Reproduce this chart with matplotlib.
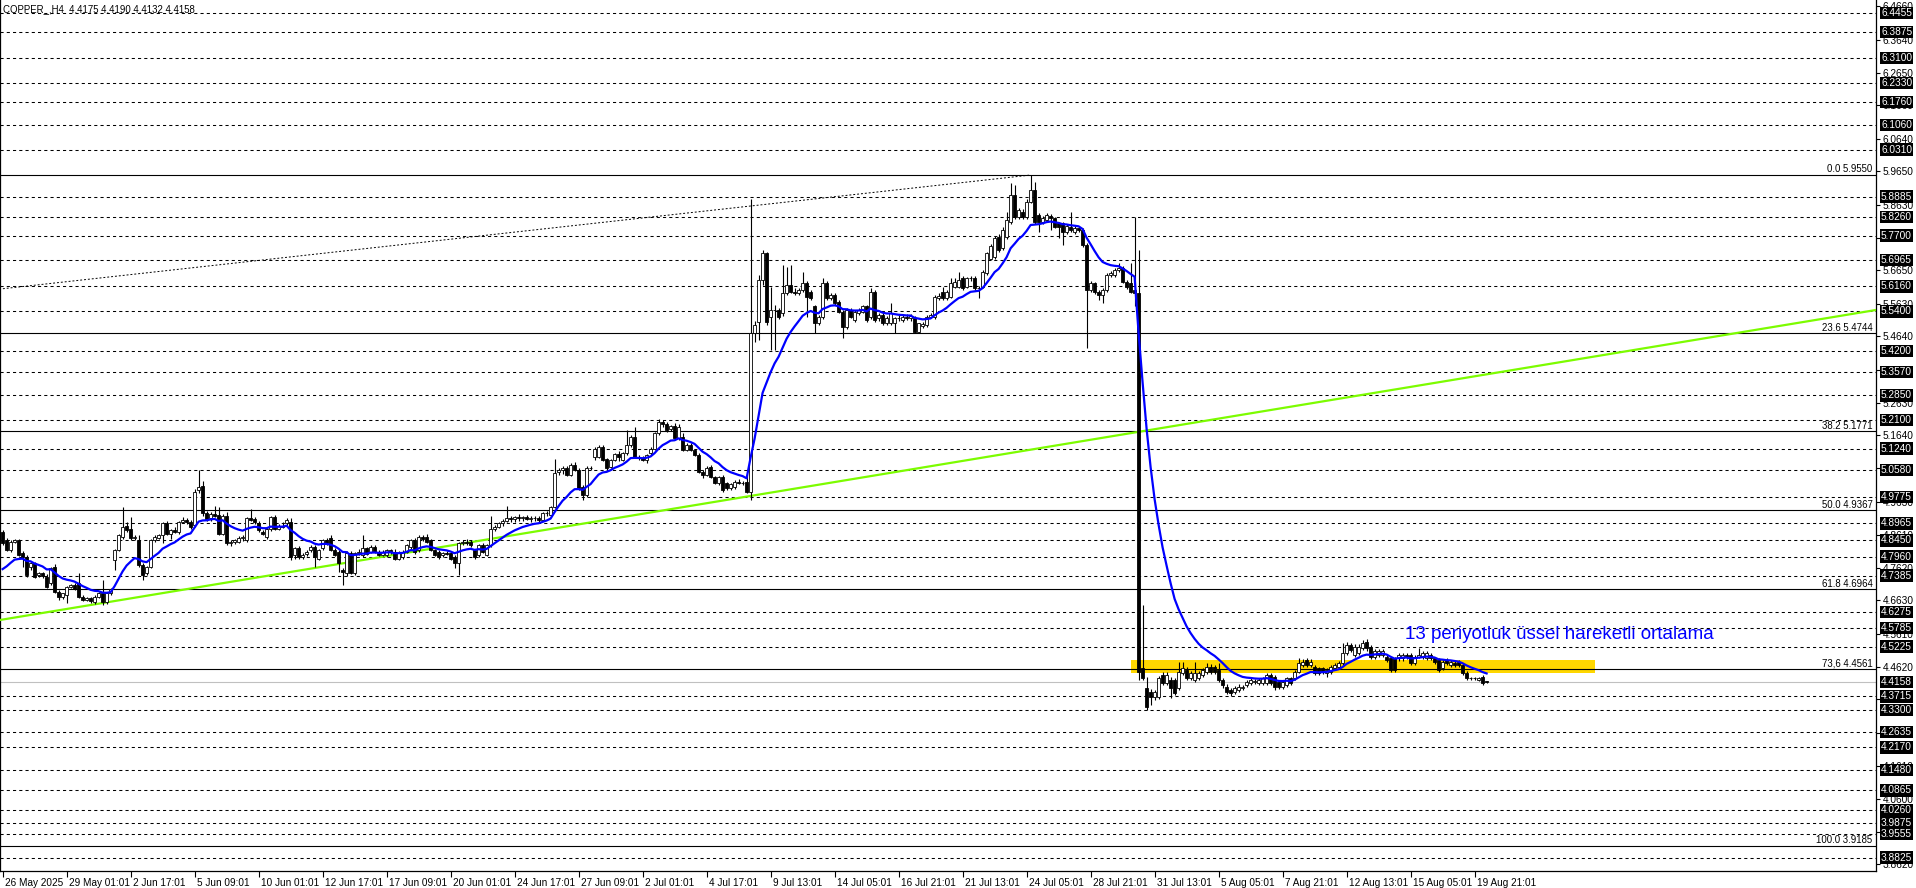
import numpy as np
import pandas as pd
import matplotlib
matplotlib.use("Agg")
import matplotlib.pyplot as plt
import matplotlib.transforms as mtransforms

plt.rcParams['font.family'] = ['Liberation Sans', 'DejaVu Sans']

# ---- candle data (COPPER_, H4), one value per bar ----
o = [4.871, 4.846, 4.816, 4.841, 4.845, 4.808, 4.796, 4.765, 4.775, 4.740,
     4.745, 4.735, 4.715, 4.765, 4.689, 4.674, 4.679, 4.704, 4.709, 4.715,
     4.674, 4.664, 4.669, 4.659, 4.674, 4.684, 4.659, 4.684, 4.785, 4.816,
     4.856, 4.889, 4.881, 4.851, 4.846, 4.770, 4.745, 4.765, 4.846, 4.851,
     4.861, 4.897, 4.866, 4.876, 4.871, 4.902, 4.907, 4.902, 4.892, 4.998,
     5.010, 4.927, 4.912, 4.925, 4.922, 4.866, 4.920, 4.836, 4.840, 4.841,
     4.851, 4.846, 4.912, 4.910, 4.899, 4.871, 4.856, 4.881, 4.917, 4.881,
     4.890, 4.897, 4.902, 4.801, 4.821, 4.796, 4.804, 4.816, 4.826, 4.790,
     4.821, 4.846, 4.851, 4.816, 4.811, 4.755, 4.745, 4.806, 4.745, 4.806,
     4.801, 4.821, 4.811, 4.826, 4.811, 4.801, 4.801, 4.816, 4.811, 4.790,
     4.796, 4.811, 4.826, 4.846, 4.816, 4.856, 4.856, 4.846, 4.816, 4.811,
     4.801, 4.806, 4.806, 4.796, 4.775, 4.836, 4.841, 4.841, 4.816, 4.801,
     4.831, 4.801, 4.831, 4.881, 4.887, 4.897, 4.905, 4.912, 4.910, 4.915,
     4.912, 4.916, 4.910, 4.914, 4.912, 4.907, 4.927, 4.922, 4.947, 5.054,
     5.059, 5.064, 5.044, 5.074, 5.059, 5.008, 4.983, 5.064, 5.099, 5.099,
     5.129, 5.091, 5.069, 5.089, 5.107, 5.089, 5.109, 5.135, 5.160, 5.099,
     5.094, 5.089, 5.109, 5.124, 5.170, 5.205, 5.198, 5.182, 5.192, 5.155,
     5.160, 5.119, 5.135, 5.119, 5.104, 5.054, 5.044, 5.069, 5.038, 5.018,
     5.038, 5.018, 5.003, 5.008, 5.023, 5.018, 5.023, 4.993, 5.474, 5.509,
     5.635, 5.716, 5.524, 5.544, 5.544, 5.534, 5.595, 5.620, 5.600, 5.595,
     5.605, 5.625, 5.600, 5.555, 5.504, 5.524, 5.625, 5.580, 5.590, 5.570,
     5.539, 5.494, 5.544, 5.514, 5.534, 5.539, 5.555, 5.524, 5.600, 5.519,
     5.529, 5.504, 5.504, 5.504, 5.519, 5.514, 5.524, 5.519, 5.519, 5.479,
     5.496, 5.499, 5.524, 5.524, 5.580, 5.600, 5.580, 5.585, 5.615, 5.615,
     5.640, 5.615, 5.640, 5.640, 5.610, 5.615, 5.656, 5.700, 5.706, 5.767,
     5.732, 5.767, 5.812, 5.893, 5.828, 5.843, 5.828, 5.873, 5.909, 5.833,
     5.812, 5.818, 5.830, 5.823, 5.807, 5.807, 5.782, 5.797, 5.782, 5.792,
     5.787, 5.742, 5.605, 5.625, 5.600, 5.590, 5.605, 5.651, 5.651, 5.666,
     5.671, 5.630, 5.625, 5.605, 5.595, 4.457, 4.396, 4.386, 4.371, 4.371,
     4.437, 4.411, 4.421, 4.421, 4.396, 4.442, 4.452, 4.426, 4.421, 4.426,
     4.437, 4.447, 4.462, 4.462, 4.452, 4.421, 4.401, 4.391, 4.386, 4.391,
     4.396, 4.406, 4.411, 4.416, 4.411, 4.411, 4.411, 4.437, 4.432, 4.416,
     4.401, 4.406, 4.426, 4.426, 4.447, 4.467, 4.482, 4.467, 4.462, 4.457,
     4.457, 4.442, 4.447, 4.457, 4.462, 4.472, 4.502, 4.528, 4.497, 4.502,
     4.518, 4.538, 4.523, 4.492, 4.497, 4.497, 4.492, 4.487, 4.487, 4.487,
     4.487, 4.497, 4.497, 4.472, 4.492, 4.492, 4.487, 4.497, 4.487, 4.482,
     4.457, 4.482, 4.467, 4.472, 4.477, 4.467, 4.442, 4.426, 4.426, 4.421,
     4.431, 4.4175]
h = [4.878, 4.852, 4.845, 4.850, 4.850, 4.812, 4.800, 4.780, 4.780, 4.748,
     4.750, 4.742, 4.765, 4.772, 4.694, 4.686, 4.706, 4.712, 4.715, 4.745,
     4.680, 4.672, 4.674, 4.678, 4.690, 4.725, 4.690, 4.702, 4.820, 4.865,
     4.947, 4.900, 4.915, 4.860, 4.860, 4.775, 4.768, 4.850, 4.862, 4.866,
     4.902, 4.905, 4.880, 4.885, 4.905, 4.915, 4.912, 4.908, 5.000, 5.059,
     5.025, 4.935, 4.930, 4.950, 4.945, 4.925, 4.930, 4.845, 4.850, 4.858,
     4.860, 4.915, 4.940, 4.915, 4.905, 4.878, 4.885, 4.920, 4.922, 4.895,
     4.900, 4.912, 4.912, 4.825, 4.828, 4.808, 4.815, 4.830, 4.832, 4.818,
     4.850, 4.852, 4.861, 4.822, 4.815, 4.762, 4.812, 4.812, 4.810, 4.818,
     4.860, 4.826, 4.830, 4.832, 4.815, 4.815, 4.820, 4.820, 4.818, 4.812,
     4.815, 4.835, 4.850, 4.852, 4.860, 4.862, 4.866, 4.850, 4.820, 4.815,
     4.810, 4.812, 4.810, 4.800, 4.840, 4.845, 4.848, 4.846, 4.820, 4.835,
     4.838, 4.835, 4.920, 4.892, 4.900, 4.910, 4.950, 4.920, 4.918, 4.925,
     4.920, 4.922, 4.920, 4.920, 4.918, 4.930, 4.935, 4.950, 5.091, 5.065,
     5.070, 5.070, 5.080, 5.082, 5.065, 5.012, 5.070, 5.070, 5.128, 5.135,
     5.135, 5.095, 5.092, 5.110, 5.115, 5.113, 5.180, 5.165, 5.190, 5.105,
     5.100, 5.108, 5.128, 5.175, 5.215, 5.212, 5.205, 5.196, 5.200, 5.198,
     5.170, 5.140, 5.140, 5.124, 5.110, 5.060, 5.070, 5.075, 5.042, 5.042,
     5.045, 5.022, 5.020, 5.028, 5.030, 5.025, 5.045, 5.880, 5.510, 5.650,
     5.726, 5.720, 5.615, 5.560, 5.550, 5.681, 5.676, 5.681, 5.610, 5.612,
     5.661, 5.632, 5.605, 5.560, 5.530, 5.640, 5.632, 5.595, 5.596, 5.575,
     5.545, 5.550, 5.550, 5.545, 5.550, 5.560, 5.560, 5.610, 5.605, 5.535,
     5.535, 5.525, 5.565, 5.522, 5.528, 5.530, 5.532, 5.532, 5.525, 5.506,
     5.508, 5.530, 5.535, 5.590, 5.595, 5.615, 5.605, 5.640, 5.640, 5.661,
     5.648, 5.645, 5.648, 5.648, 5.618, 5.665, 5.720, 5.745, 5.770, 5.775,
     5.795, 5.843, 5.929, 5.924, 5.855, 5.850, 5.880, 5.954, 5.934, 5.838,
     5.830, 5.840, 5.835, 5.828, 5.812, 5.812, 5.805, 5.843, 5.798, 5.797,
     5.792, 5.748, 5.632, 5.630, 5.605, 5.610, 5.658, 5.662, 5.672, 5.686,
     5.678, 5.635, 5.686, 5.828, 5.726, 4.649, 4.430, 4.395, 4.392, 4.435,
     4.447, 4.445, 4.430, 4.428, 4.477, 4.477, 4.460, 4.450, 4.477, 4.450,
     4.458, 4.472, 4.470, 4.468, 4.472, 4.426, 4.408, 4.396, 4.402, 4.408,
     4.406, 4.422, 4.428, 4.424, 4.428, 4.432, 4.442, 4.442, 4.438, 4.422,
     4.422, 4.432, 4.432, 4.452, 4.487, 4.485, 4.488, 4.484, 4.468, 4.462,
     4.462, 4.458, 4.468, 4.474, 4.478, 4.533, 4.538, 4.535, 4.530, 4.530,
     4.543, 4.545, 4.528, 4.514, 4.514, 4.514, 4.498, 4.492, 4.492, 4.503,
     4.503, 4.502, 4.503, 4.498, 4.518, 4.508, 4.508, 4.503, 4.492, 4.488,
     4.483, 4.488, 4.483, 4.478, 4.482, 4.472, 4.448, 4.432, 4.432, 4.432,
     4.437, 4.4190]
l = [4.830, 4.812, 4.810, 4.836, 4.798, 4.765, 4.735, 4.755, 4.730, 4.735,
     4.732, 4.700, 4.710, 4.685, 4.664, 4.668, 4.654, 4.700, 4.695, 4.670,
     4.660, 4.662, 4.655, 4.652, 4.670, 4.650, 4.652, 4.680, 4.755, 4.812,
     4.850, 4.872, 4.846, 4.845, 4.765, 4.725, 4.740, 4.760, 4.840, 4.848,
     4.838, 4.862, 4.850, 4.868, 4.866, 4.898, 4.895, 4.880, 4.885, 4.990,
     4.920, 4.905, 4.905, 4.915, 4.860, 4.860, 4.830, 4.828, 4.835, 4.836,
     4.842, 4.840, 4.905, 4.895, 4.872, 4.860, 4.850, 4.875, 4.876, 4.878,
     4.882, 4.890, 4.785, 4.790, 4.790, 4.790, 4.798, 4.810, 4.765, 4.785,
     4.815, 4.832, 4.812, 4.798, 4.750, 4.709, 4.738, 4.742, 4.740, 4.800,
     4.795, 4.800, 4.806, 4.808, 4.798, 4.798, 4.796, 4.805, 4.785, 4.786,
     4.790, 4.806, 4.820, 4.805, 4.810, 4.842, 4.838, 4.812, 4.798, 4.790,
     4.796, 4.800, 4.786, 4.760, 4.740, 4.830, 4.832, 4.826, 4.790, 4.795,
     4.808, 4.798, 4.826, 4.875, 4.882, 4.890, 4.900, 4.900, 4.900, 4.905,
     4.905, 4.906, 4.902, 4.905, 4.900, 4.904, 4.920, 4.918, 4.942, 5.045,
     5.048, 5.040, 5.040, 5.055, 4.998, 4.968, 4.978, 5.058, 5.090, 5.095,
     5.085, 5.060, 5.064, 5.085, 5.086, 5.085, 5.104, 5.130, 5.095, 5.090,
     5.085, 5.080, 5.104, 5.120, 5.165, 5.190, 5.175, 5.178, 5.150, 5.150,
     5.115, 5.115, 5.115, 5.100, 5.050, 5.035, 5.040, 5.035, 5.015, 5.012,
     4.992, 4.998, 4.998, 5.002, 5.015, 5.012, 4.988, 4.968, 5.448, 5.453,
     5.620, 5.500, 5.423, 5.423, 5.518, 5.525, 5.590, 5.595, 5.590, 5.590,
     5.600, 5.524, 5.575, 5.474, 5.498, 5.518, 5.575, 5.575, 5.560, 5.535,
     5.458, 5.488, 5.520, 5.508, 5.530, 5.535, 5.508, 5.518, 5.508, 5.512,
     5.500, 5.498, 5.500, 5.474, 5.510, 5.508, 5.515, 5.512, 5.474, 5.474,
     5.490, 5.494, 5.520, 5.518, 5.575, 5.575, 5.575, 5.580, 5.610, 5.610,
     5.605, 5.610, 5.632, 5.605, 5.580, 5.610, 5.650, 5.695, 5.700, 5.720,
     5.725, 5.760, 5.805, 5.820, 5.820, 5.822, 5.822, 5.868, 5.805, 5.782,
     5.805, 5.810, 5.787, 5.792, 5.762, 5.742, 5.776, 5.780, 5.776, 5.780,
     5.736, 5.428, 5.598, 5.592, 5.575, 5.565, 5.600, 5.645, 5.645, 5.660,
     5.625, 5.608, 5.595, 5.555, 4.420, 4.420, 4.330, 4.345, 4.362, 4.365,
     4.405, 4.405, 4.366, 4.375, 4.390, 4.437, 4.420, 4.420, 4.415, 4.420,
     4.430, 4.440, 4.440, 4.440, 4.415, 4.396, 4.378, 4.372, 4.380, 4.385,
     4.390, 4.400, 4.405, 4.410, 4.405, 4.405, 4.405, 4.405, 4.391, 4.395,
     4.395, 4.400, 4.405, 4.420, 4.442, 4.462, 4.460, 4.460, 4.436, 4.436,
     4.440, 4.432, 4.440, 4.452, 4.456, 4.466, 4.496, 4.505, 4.490, 4.496,
     4.512, 4.510, 4.485, 4.486, 4.490, 4.490, 4.476, 4.446, 4.446, 4.480,
     4.480, 4.486, 4.466, 4.466, 4.488, 4.486, 4.482, 4.482, 4.470, 4.446,
     4.452, 4.466, 4.462, 4.462, 4.462, 4.436, 4.420, 4.420, 4.422, 4.418,
     4.405, 4.4132]
c = [4.836, 4.816, 4.841, 4.845, 4.801, 4.796, 4.740, 4.775, 4.735, 4.745,
     4.738, 4.704, 4.760, 4.689, 4.674, 4.684, 4.704, 4.709, 4.699, 4.674,
     4.664, 4.669, 4.660, 4.674, 4.684, 4.659, 4.684, 4.699, 4.816, 4.861,
     4.887, 4.876, 4.851, 4.856, 4.770, 4.740, 4.765, 4.846, 4.856, 4.861,
     4.897, 4.866, 4.876, 4.871, 4.902, 4.907, 4.902, 4.887, 4.993, 5.008,
     4.927, 4.909, 4.925, 4.920, 4.866, 4.920, 4.836, 4.840, 4.846, 4.851,
     4.856, 4.912, 4.907, 4.902, 4.876, 4.866, 4.881, 4.917, 4.881, 4.890,
     4.887, 4.907, 4.796, 4.821, 4.796, 4.801, 4.811, 4.826, 4.796, 4.816,
     4.846, 4.836, 4.816, 4.801, 4.775, 4.750, 4.806, 4.745, 4.806, 4.811,
     4.821, 4.804, 4.826, 4.811, 4.801, 4.809, 4.816, 4.809, 4.790, 4.808,
     4.811, 4.831, 4.846, 4.811, 4.856, 4.848, 4.841, 4.816, 4.801, 4.796,
     4.806, 4.805, 4.790, 4.775, 4.836, 4.841, 4.836, 4.831, 4.796, 4.831,
     4.811, 4.831, 4.881, 4.887, 4.897, 4.905, 4.912, 4.910, 4.915, 4.912,
     4.916, 4.910, 4.914, 4.912, 4.907, 4.927, 4.929, 4.947, 5.049, 5.059,
     5.064, 5.044, 5.074, 5.059, 5.003, 4.983, 5.064, 5.066, 5.121, 5.129,
     5.089, 5.064, 5.089, 5.107, 5.099, 5.109, 5.135, 5.160, 5.099, 5.094,
     5.090, 5.104, 5.124, 5.170, 5.205, 5.198, 5.180, 5.192, 5.155, 5.190,
     5.119, 5.135, 5.119, 5.104, 5.054, 5.044, 5.064, 5.038, 5.018, 5.038,
     4.998, 5.003, 5.015, 5.023, 5.018, 5.020, 4.993, 5.474, 5.499, 5.635,
     5.716, 5.509, 5.544, 5.544, 5.524, 5.595, 5.620, 5.600, 5.597, 5.605,
     5.625, 5.585, 5.580, 5.504, 5.524, 5.625, 5.580, 5.590, 5.565, 5.539,
     5.494, 5.544, 5.524, 5.539, 5.544, 5.555, 5.514, 5.600, 5.514, 5.529,
     5.504, 5.519, 5.534, 5.519, 5.519, 5.524, 5.520, 5.526, 5.479, 5.504,
     5.502, 5.524, 5.529, 5.585, 5.587, 5.580, 5.600, 5.625, 5.630, 5.635,
     5.610, 5.640, 5.641, 5.610, 5.612, 5.661, 5.716, 5.740, 5.762, 5.727,
     5.787, 5.818, 5.893, 5.828, 5.848, 5.828, 5.873, 5.909, 5.812, 5.812,
     5.823, 5.833, 5.823, 5.797, 5.797, 5.782, 5.799, 5.787, 5.792, 5.787,
     5.742, 5.605, 5.625, 5.600, 5.590, 5.605, 5.651, 5.656, 5.666, 5.671,
     5.630, 5.615, 5.600, 5.595, 4.447, 4.426, 4.340, 4.371, 4.386, 4.426,
     4.411, 4.437, 4.396, 4.381, 4.447, 4.457, 4.426, 4.442, 4.442, 4.442,
     4.452, 4.462, 4.447, 4.447, 4.421, 4.406, 4.386, 4.381, 4.396, 4.401,
     4.401, 4.416, 4.421, 4.417, 4.421, 4.426, 4.437, 4.411, 4.401, 4.401,
     4.416, 4.426, 4.411, 4.447, 4.472, 4.477, 4.467, 4.477, 4.442, 4.442,
     4.447, 4.452, 4.462, 4.467, 4.472, 4.502, 4.528, 4.513, 4.523, 4.523,
     4.533, 4.518, 4.492, 4.508, 4.508, 4.508, 4.482, 4.452, 4.452, 4.497,
     4.497, 4.492, 4.472, 4.492, 4.497, 4.502, 4.502, 4.487, 4.477, 4.452,
     4.477, 4.472, 4.477, 4.467, 4.467, 4.442, 4.426, 4.427, 4.428, 4.426,
     4.411, 4.4158]

ema_period = 13
ema_seed = 4.745          # indicator value just before the first visible bar

# date labels under the chart, every 16 bars
date_labels = ['26 May 2025', '29 May 01:01', '2 Jun 17:01', '5 Jun 09:01',
               '10 Jun 01:01', '12 Jun 17:01', '17 Jun 09:01', '20 Jun 01:01',
               '24 Jun 17:01', '27 Jun 09:01', '2 Jul 01:01', '4 Jul 17:01',
               '9 Jul 13:01', '14 Jul 05:01', '16 Jul 21:01', '21 Jul 13:01',
               '24 Jul 05:01', '28 Jul 21:01', '31 Jul 13:01', '5 Aug 05:01',
               '7 Aug 21:01', '12 Aug 13:01', '15 Aug 05:01', '19 Aug 21:01']

# price scale ticks on the right
price_ticks = [6.4660, 6.3640, 6.2650, 6.1660, 6.0640, 5.9650, 5.8630, 5.7640,
               5.6650, 5.5630, 5.4640, 5.3630, 5.2630, 5.1640, 5.0650, 4.9630,
               4.8610, 4.7620, 4.6630, 4.5610, 4.4620, 4.3630, 4.2620, 4.1610,
               4.0600, 3.9610, 3.8620]

# horizontal (dashed) lines drawn on the chart
hlines = [6.4455, 6.3875, 6.3100, 6.2330, 6.1760, 6.1060, 6.0310, 5.8885,
          5.8260, 5.7700, 5.6965, 5.6160, 5.5400, 5.4200, 5.3570, 5.2850,
          5.2100, 5.1240, 5.0580, 4.9775, 4.8965, 4.8450, 4.7960, 4.7385,
          4.6275, 4.5785, 4.5225, 4.3715, 4.3300, 4.2635, 4.2170, 4.1480,
          4.0865, 4.0260, 3.9875, 3.9555, 3.8825]

# fibonacci retracement
fib_hi, fib_lo = 5.9550, 3.9185
fib_ratios = [0.0, 0.236, 0.382, 0.5, 0.618, 0.736, 1.0]
fib_names = ['0.0', '23.6', '38.2', '50.0', '61.8', '73,6', '100.0']

# trend lines: (bar, price) anchors
green_pts = [(20, 4.645), (186, 4.978)]
dotted_pts = [(-1, 5.6075), (257, 5.954)]

# zone rectangle (bars, prices)
zone_bars = (282, 398)
zone_prices = (4.442, 4.482)

last_price = c[-1]

# ---------------- figure ----------------
W, H = 1916, 888
fig = plt.figure(figsize=(W / 100, H / 100), dpi=100)
plot_right, plot_bottom = 1876, 871
ax = fig.add_axes([0, (H - plot_bottom) / H, plot_right / W, plot_bottom / H])

px_per_bar = 4.0
x0_px = 2.6
ax.set_xlim(-x0_px / px_per_bar, (plot_right - x0_px) / px_per_bar)
ppp = 0.003035   # price per pixel
ax.set_ylim(fib_hi - (plot_bottom - 174.7) * ppp, fib_hi + 174.7 * ppp)

n = len(c)
x = np.arange(n)
o_a, h_a, l_a, c_a = map(np.array, (o, h, l, c))

# zone
ax.fill_between(zone_bars, zone_prices[0], zone_prices[1], color='#FFD700', lw=0, zorder=1)

# dashed levels
for p in hlines:
    ax.axhline(p, color='black', lw=0.75, ls=(0, (3, 3)), zorder=2)

# fib levels
fib_levels = [fib_hi - r * (fib_hi - fib_lo) for r in fib_ratios]
xr = ax.get_xlim()[1]
for lev, name in zip(fib_levels, fib_names):
    ax.axhline(lev, color='black', lw=0.8, zorder=2)
    ax.text(xr - 0.9, lev + 0.0012, f'{name} {lev:.4f}', ha='right', va='bottom',
            fontsize=6.9, color='black', zorder=6)

# current price line
ax.axhline(last_price, color='#C0C0C0', lw=0.8, zorder=2)

# trend lines
ax.axline(green_pts[0], green_pts[1], color='#7CFC00', lw=1.6, zorder=3)
ax.plot([p[0] for p in dotted_pts], [p[1] for p in dotted_pts], color='black',
        lw=0.7, ls=(0, (2, 2)), zorder=3)

# candles
up = c_a >= o_a
ax.vlines(x, l_a, h_a, color='black', lw=0.8, zorder=4)
body_lo = np.minimum(o_a, c_a)
body_h = np.abs(c_a - o_a)
ax.bar(x[up], body_h[up], bottom=body_lo[up], width=0.6, color='white',
       edgecolor='black', linewidth=0.6, zorder=5)
ax.bar(x[~up], body_h[~up], bottom=body_lo[~up], width=0.6, color='black',
       edgecolor='black', linewidth=0.6, zorder=5)

# 13 EMA
ema = pd.Series([ema_seed] + c).ewm(span=ema_period, adjust=False).mean().values[1:]
ax.plot(x, ema, color='#0000FF', lw=1.6, zorder=6)

ax.text(350.6, 4.558, '13 periyotluk üssel hareketli ortalama', color='#0000FF',
        fontsize=13.5, ha='left', va='center', zorder=7)

# title
ax.text(0.0016, 0.995, 'COPPER_,H4  4.4175 4.4190 4.4132 4.4158', transform=ax.transAxes,
        ha='left', va='top', fontsize=6.9, color='black', zorder=7)

# axes styling
ax.spines['top'].set_visible(False)
for s in ['left', 'right', 'bottom']:
    ax.spines[s].set_linewidth(0.9)

ax.yaxis.tick_right()
ax.set_yticks(price_ticks)
ax.set_yticklabels([f'{p:.4f}' for p in price_ticks])
ax.tick_params(axis='y', direction='out', length=3, width=0.8, labelsize=7.3, pad=2)

xt = np.arange(len(date_labels)) * 16
ax.set_xticks(xt)
ax.set_xticklabels(date_labels, ha='left')
ax.tick_params(axis='x', direction='out', length=4, width=0.8, labelsize=7.2, pad=1)
for lab in ax.get_xticklabels():
    lab.set_transform(lab.get_transform() + mtransforms.ScaledTranslation(2 / 100, 0, fig.dpi_scale_trans))

# price tags on the right for horizontal lines
trans = mtransforms.blended_transform_factory(ax.transAxes, ax.transData)
for p in hlines + [last_price]:
    ax.text(1.0 + 5 / plot_right, p, f'{p:.4f}', transform=trans, ha='left', va='center',
            fontsize=7.3, color='white', clip_on=False, zorder=10,
            bbox=dict(boxstyle='square,pad=0.12', fc='black', ec='none'))

fig.savefig('out.png', dpi=100, facecolor='white')
